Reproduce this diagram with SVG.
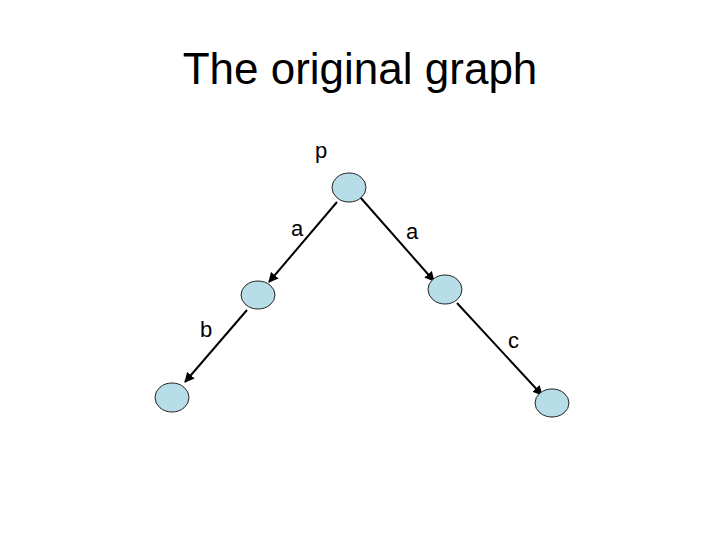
<svg xmlns="http://www.w3.org/2000/svg" width="720" height="540" viewBox="0 0 720 540">
<style>
.t{font-family:"Liberation Sans",Arial,sans-serif;fill:#000}
.n{fill:#B7DDE8;stroke:#222;stroke-width:1}
.e{stroke:#000;stroke-width:2;fill:none;marker-end:url(#ah)}
</style>
<defs>
<marker id="ah" viewBox="0 0 10 10" refX="9" refY="5" markerWidth="5" markerHeight="5" orient="auto" markerUnits="strokeWidth">
<path d="M0,0 L10,5 L0,10 z" fill="#000"/>
</marker>
</defs>
<rect width="720" height="540" fill="#fff"/>
<text class="t" x="360" y="84" font-size="44" text-anchor="middle">The original graph</text>
<g id="edges">
<line class="e" x1="337" y1="202" x2="269" y2="282"/>
<line class="e" x1="360" y1="197" x2="434" y2="281"/>
<line class="e" x1="247" y1="310" x2="185" y2="382"/>
<line class="e" x1="457" y1="303" x2="542" y2="395"/>
</g>
<g id="labels">
<text class="t" x="315" y="158" font-size="22">p</text>
<text class="t" x="291" y="236" font-size="22">a</text>
<text class="t" x="406" y="239" font-size="22">a</text>
<text class="t" x="200" y="337" font-size="22">b</text>
<text class="t" x="508" y="348" font-size="22">c</text>
</g>
<g id="n1"><ellipse class="n" cx="349" cy="187.5" rx="17" ry="14.5"/></g>
<g id="n2"><ellipse class="n" cx="258" cy="295" rx="17" ry="14"/></g>
<g id="n3"><ellipse class="n" cx="445" cy="289.5" rx="17" ry="14.5"/></g>
<g id="n4"><ellipse class="n" cx="172" cy="397.5" rx="17" ry="14.5"/></g>
<g id="n5"><ellipse class="n" cx="552" cy="403" rx="17" ry="14"/></g>
</svg>
